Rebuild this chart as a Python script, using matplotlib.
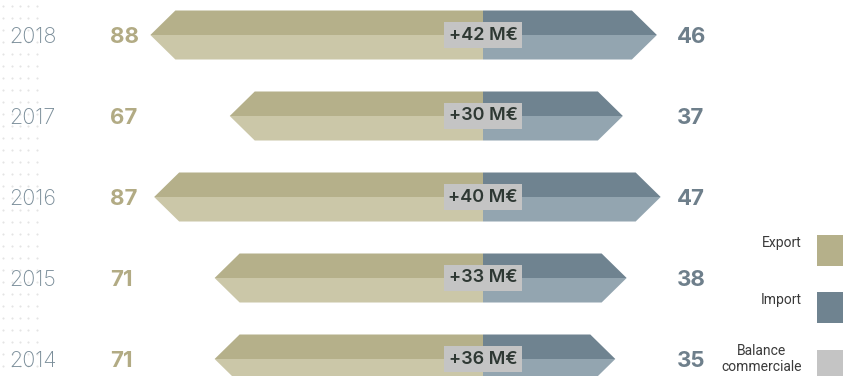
import matplotlib.pyplot as plt
from matplotlib.patches import Polygon, Rectangle

years = ["2018", "2017", "2016", "2015", "2014"]
exports = [88, 67, 87, 71, 71]
imports = [46, 37, 47, 38, 35]

exp_dark, exp_light = "#b5b08a", "#cbc7a8"
imp_dark, imp_light = "#6f8390", "#93a5b0"
bal_grey = "#c4c4c4"

W, H = 843, 376
fig = plt.figure(figsize=(W / 100, H / 100), dpi=100)
ax = fig.add_axes([0, 0, 1, 1])
ax.axis("off")

px = 3.78          # pixels per M€
x0 = 483           # pixel of the zero line
y0, dy = 35, 81    # pixel of first row, row spacing
ax.set_xlim(-x0 / px, (W - x0) / px)
ax.set_ylim((H - y0) / dy, -y0 / dy)

h = 24.5 / dy      # half bar height
tip = 25 / px      # length of the pointed end


def arrow(y, v, top, bottom):
    # v negative -> pointing left
    s = -1 if v < 0 else 1
    ax.add_patch(Polygon([(0, y - h), (v - s * tip, y - h), (v, y), (0, y)],
                         closed=True, facecolor=top, edgecolor="none"))
    ax.add_patch(Polygon([(0, y), (v, y), (v - s * tip, y + h), (0, y + h)],
                         closed=True, facecolor=bottom, edgecolor="none"))


# faint dot pattern on the left edge
for gx in [3, 12, 20, 28, 37]:
    for gy in range(6, H, 12):
        fig.add_artist(plt.Line2D([gx / W], [1 - gy / H], marker="s", markersize=0.5,
                                  color="#e4e4e4", linestyle="none", zorder=-1))

for i, (yr, e, m) in enumerate(zip(years, exports, imports)):
    arrow(i, -e, exp_dark, exp_light)
    arrow(i, m, imp_dark, imp_light)
    tr = ax.get_yaxis_transform()
    ax.text(9 / W, i, yr, transform=tr, ha="left", va="center_baseline",
            fontsize=15.5, color="#7a8d99", family="Inter", fontweight="light")
    ax.text(110 / W, i, str(e), transform=tr, ha="left", va="center_baseline",
            fontsize=16, color="#b2ab84", family="Inter", fontweight="bold")
    ax.text(677 / W, i, str(m), transform=tr, ha="left", va="center_baseline",
            fontsize=16, color="#6e7f8b", family="Inter", fontweight="bold")
    ax.text(0, i, f"+{e - m} M€", ha="center", va="center", fontsize=13,
            color="#2e3833", family="Inter", fontweight="semibold",
            bbox=dict(boxstyle="square,pad=0.25", facecolor=bal_grey, edgecolor="none"))

# legend
leg = [("Export", exp_dark, 235), ("Import", imp_dark, 292), ("Balance\ncommerciale", bal_grey, 350)]
for lab, col, top in leg:
    fig.add_artist(Rectangle((817 / W, 1 - (top + 31) / H), 26 / W, 31 / H,
                             transform=fig.transFigure, facecolor=col, edgecolor="none"))
    yc = top + 8 if "\n" not in lab else top + 9
    fig.text(802 / W, 1 - yc / H, lab, ha="right", va="center", multialignment="center",
             fontsize=10, color="#3a3a3a", family="Roboto", linespacing=1.1)

fig.savefig("out.png", dpi=100)
